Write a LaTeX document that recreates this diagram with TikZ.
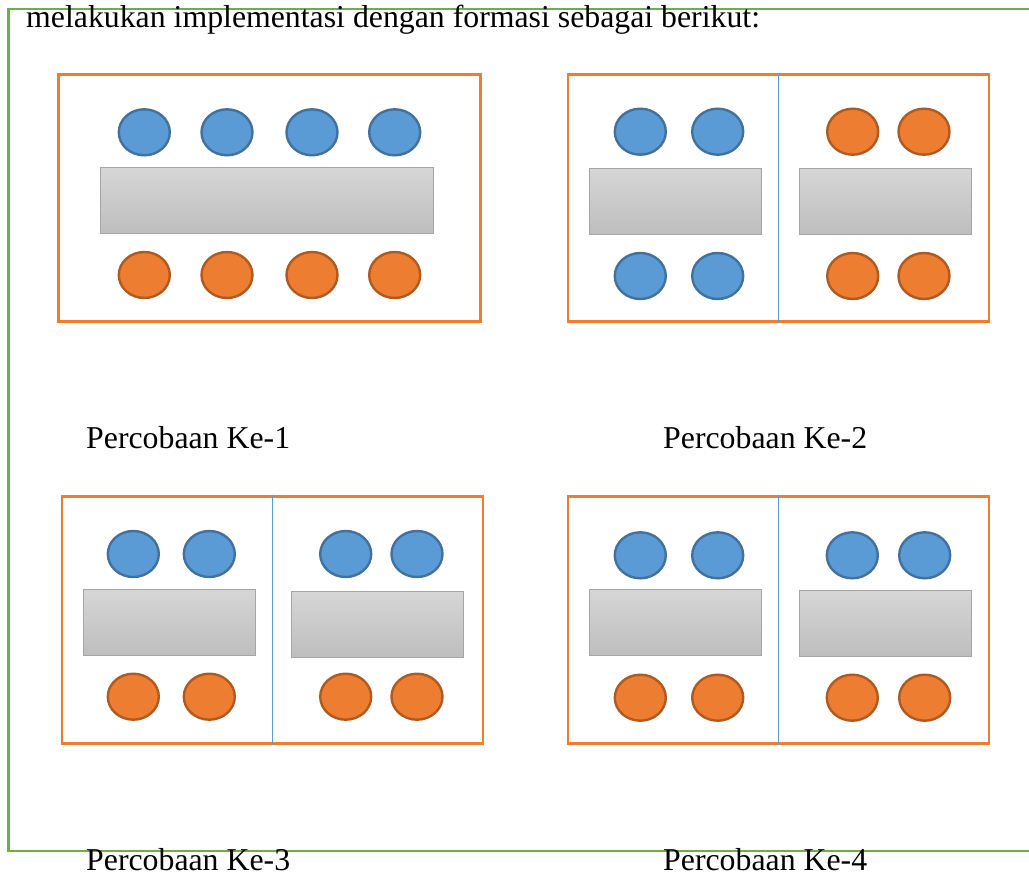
\documentclass[tikz,border=0pt]{standalone}
\usepackage{fontspec}
\setmainfont{Liberation Serif}
\usetikzlibrary{shapes.geometric}
\definecolor{seatblue}{HTML}{5B9BD5}
\definecolor{seatblueline}{HTML}{41719C}
\definecolor{seatorange}{HTML}{ED7D31}
\definecolor{seatorangeline}{HTML}{AE5A21}
\definecolor{tabletop}{HTML}{D6D6D6}
\definecolor{tablebottom}{HTML}{BEBEBE}
\definecolor{tableline}{HTML}{A5A5A5}
\definecolor{framegreen}{HTML}{70AD47}
\begin{document}
\begin{tikzpicture}[x=1bp,y=-1bp,
    label text/.style={font=\fontsize{31.8bp}{38bp}\selectfont,inner sep=0pt,anchor=base west},
    room/.style={draw=seatorange,line width=2.7bp,rectangle,inner sep=0pt},
    desk/.style={draw=tableline,line width=1bp,rectangle,inner sep=0pt,
      top color=tabletop,bottom color=tablebottom,
      minimum width=172bp,minimum height=66bp},
    seat/.style={ellipse,inner sep=0pt,line width=2.4bp,
      minimum width=51bp,minimum height=46bp},
    blueseat/.style={seat,fill=seatblue,draw=seatblueline},
    orangeseat/.style={seat,fill=seatorange,draw=seatorangeline},
    divider/.style={draw=seatblue,line width=1bp}]
  \useasboundingbox (0,0) rectangle (1029,875);
  \clip (0,0) rectangle (1029,875);
  % page frame, open to the right
  \draw[framegreen,line width=2.2bp] (1040,9) -- (8.5,9) -- (8.5,851) -- (1040,851);
  \node[label text] (intro) at (26,27) {melakukan implementasi dengan formasi sebagai berikut:};

  % rooms
  \node[room,minimum width=422bp,minimum height=247bp] (r1) at (269.7,198.2) {};
  \node[room,minimum width=421bp,minimum height=247bp] (r2) at (778.5,198.3) {};
  \node[room,minimum width=421bp,minimum height=247bp] (r3) at (272.5,619.7) {};
  \node[room,minimum width=421bp,minimum height=247bp] (r4) at (778.5,619.7) {};
  \begin{scope}[divider]
    \draw (r2.north) to (r2.south);
    \draw (r3.north) to (r3.south);
    \draw (r4.north) to (r4.south);
  \end{scope}

  % tables
  \node[desk,minimum width=333bp] (t1) at (267.2,200.5) {};
  \node[desk] (t2a) at (675.8,201.3) {};
  \node[desk] (t2b) at (885.5,201.5) {};
  \node[desk] (t3a) at (169.2,622.2) {};
  \node[desk] (t3b) at (377.0,624.2) {};
  \node[desk] (t4a) at (675.8,622.5) {};
  \node[desk] (t4b) at (885.5,623.0) {};

  % Percobaan 1
  \node[blueseat] (s1a) at (144.3,132.3) {};
  \node[blueseat] (s1b) at (227.0,132.3) {};
  \node[blueseat] (s1c) at (312.0,132.3) {};
  \node[blueseat] (s1d) at (394.7,132.3) {};
  \node[orangeseat] (s1e) at (144.3,275.0) {};
  \node[orangeseat] (s1f) at (227.0,275.0) {};
  \node[orangeseat] (s1g) at (312.0,275.0) {};
  \node[orangeseat] (s1h) at (394.7,275.0) {};

  % Percobaan 2
  \node[blueseat] (s2a) at (640.3,131.7) {};
  \node[blueseat] (s2b) at (717.7,131.7) {};
  \node[blueseat] (s2c) at (640.3,276.0) {};
  \node[blueseat] (s2d) at (717.7,276.0) {};
  \node[orangeseat] (s2e) at (852.7,131.7) {};
  \node[orangeseat] (s2f) at (924.0,131.7) {};
  \node[orangeseat] (s2g) at (852.7,276.0) {};
  \node[orangeseat] (s2h) at (924.0,276.0) {};

  % Percobaan 3
  \node[blueseat] (s3a) at (133.3,554.0) {};
  \node[blueseat] (s3b) at (209.3,554.0) {};
  \node[blueseat] (s3c) at (345.7,554.0) {};
  \node[blueseat] (s3d) at (417.0,554.0) {};
  \node[orangeseat] (s3e) at (133.3,696.7) {};
  \node[orangeseat] (s3f) at (209.3,696.7) {};
  \node[orangeseat] (s3g) at (345.7,696.7) {};
  \node[orangeseat] (s3h) at (417.0,696.7) {};

  % Percobaan 4
  \node[blueseat] (s4a) at (640.3,555.3) {};
  \node[blueseat] (s4b) at (717.7,555.3) {};
  \node[blueseat] (s4c) at (852.3,555.3) {};
  \node[blueseat] (s4d) at (924.7,555.3) {};
  \node[orangeseat] (s4e) at (640.3,697.7) {};
  \node[orangeseat] (s4f) at (717.7,697.7) {};
  \node[orangeseat] (s4g) at (852.3,697.7) {};
  \node[orangeseat] (s4h) at (924.7,697.7) {};

  % captions
  \node[label text] (c1) at (86,448) {Percobaan Ke-1};
  \node[label text] (c2) at (663,448) {Percobaan Ke-2};
  \node[label text] (c3) at (86,870) {Percobaan Ke-3};
  \node[label text] (c4) at (663,870) {Percobaan Ke-4};
\end{tikzpicture}
\end{document}
